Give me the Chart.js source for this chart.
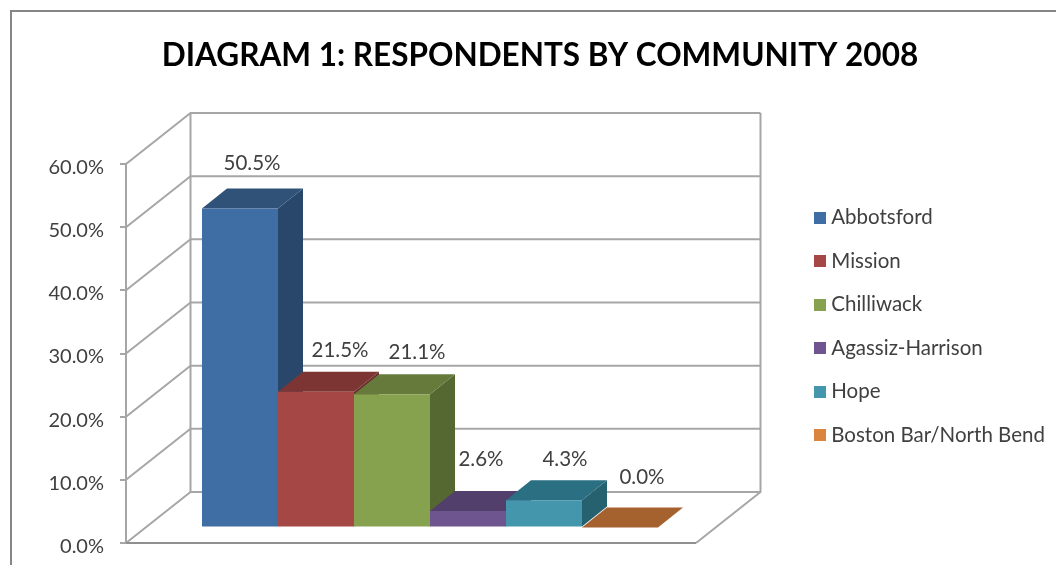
<!DOCTYPE html>
<html>
<head>
<meta charset="utf-8">
<style>
    html, body { margin: 0; padding: 0; background: #fff; overflow: hidden; }
    #wrap { position: relative; width: 1056px; height: 565px; }
    #frame { position: absolute; left: 10px; top: 10px; right: 0; bottom: 0; border-left: 2px solid #868686; border-top: 2px solid #868686; }
    canvas { position: absolute; left: 0; top: 0; }
</style>
<script src="https://cdn.jsdelivr.net/npm/chart.js@4/dist/chart.umd.js"></script>
</head>
<body>
<div id="wrap">
    <div id="frame"></div>
    <canvas id="chart" width="1056" height="565"></canvas>
</div>
<script>
const communities = ['Abbotsford', 'Mission', 'Chilliwack', 'Agassiz-Harrison', 'Hope', 'Boston Bar/North Bend'];
const respondentShares = [50.5, 21.5, 21.1, 2.6, 4.3, 0.0];

const frontColors = ['#3e6ea3', '#a54744', '#87a24f', '#6e5590', '#4396ac', '#db843d'];
const topColors = ['#305278', '#7c3533', '#657a3b', '#533f6b', '#2a6f82', '#a5612e'];
const sideColors = ['#28476a', '#6b2e2c', '#566832', '#473660', '#266170', '#8f5428'];

// wall depth and how far the bars stand off the front plane
const wallDepth = { x: 64.5, y: -51 };
const barInset = { x: 19, y: -15.5 };
const barDepth = { x: 25, y: -20 };

// hand placed like the original labels, relative to the bar front top centre
const labelNudge = [[12, -45.5], [24, -41.5], [25, -41.5], [13, -51.5], [21, -40.5], [22, -50.5]];

const lineColor = '#a6a6a6';
const textColor = '#404040';
const fontFamily = 'Lato, "Noto Sans", sans-serif';

function polygon(ctx, points, color) {
    ctx.fillStyle = color;
    ctx.beginPath();
    points.forEach((p, i) => i ? ctx.lineTo(p[0], p[1]) : ctx.moveTo(p[0], p[1]));
    ctx.closePath();
    ctx.fill();
}

function legendSwatch(color) {
    const c = document.createElement('canvas');
    c.width = 12;
    c.height = 12;
    const g = c.getContext('2d');
    g.fillStyle = color;
    g.fillRect(0, 0, 12, 12);
    return c;
}

const walls3d = {
    id: 'walls3d',
    afterLayout(chart) {
        // legend and title sit outside the plot box the scales use
        const legend = chart.legend;
        const pad = chart.options.plugins.legend.labels.padding;
        legend.left = 819 - pad;
        legend.right = 1056;
        legend.top = 207.5 - pad;
        legend.bottom = 565;
        chart.titleBlock.left = 24;
        chart.titleBlock.right = 1056;
    },
    beforeDatasetsDraw(chart) {
        const { ctx, chartArea, scales } = chart;
        const y = scales.y;
        const zero = y.getPixelForValue(0);
        const backLeft = chartArea.left + wallDepth.x;
        const backRight = chartArea.right + wallDepth.x;

        ctx.save();
        ctx.strokeStyle = lineColor;
        ctx.lineWidth = 2;
        ctx.lineJoin = 'round';
        y.ticks.forEach(tick => {
            const py = y.getPixelForValue(tick.value);
            ctx.beginPath();
            ctx.moveTo(chartArea.left, py);
            ctx.lineTo(backLeft, py + wallDepth.y);
            ctx.lineTo(backRight, py + wallDepth.y);
            ctx.stroke();
        });
        ctx.beginPath();
        ctx.moveTo(backLeft, y.getPixelForValue(60) + wallDepth.y);
        ctx.lineTo(backLeft, zero + wallDepth.y);
        ctx.moveTo(backRight, y.getPixelForValue(60) + wallDepth.y);
        ctx.lineTo(backRight, zero + wallDepth.y);
        ctx.lineTo(chartArea.right, zero);
        ctx.stroke();
        ctx.strokeStyle = '#8f8f8f';
        ctx.beginPath();
        ctx.moveTo(chartArea.left, zero);
        ctx.lineTo(chartArea.right, zero);
        ctx.stroke();
        ctx.restore();

        // depth faces go down first, left to right, the library then paints the fronts over them
        ctx.save();
        ctx.translate(barInset.x, barInset.y);
        communities.forEach((name, i) => {
            const bar = chart.getDatasetMeta(i).data[0];
            const left = bar.x - bar.width / 2;
            const right = bar.x + bar.width / 2;
            polygon(ctx, [
                [right, bar.y], [right + barDepth.x, bar.y + barDepth.y],
                [right + barDepth.x, bar.base + barDepth.y], [right, bar.base]
            ], sideColors[i]);
            polygon(ctx, [
                [left, bar.y], [left + barDepth.x, bar.y + barDepth.y],
                [right + barDepth.x, bar.y + barDepth.y], [right, bar.y]
            ], topColors[i]);
        });
        ctx.restore();

        ctx.save();
        ctx.translate(barInset.x, barInset.y);
    },
    afterDatasetsDraw(chart) {
        const ctx = chart.ctx;
        ctx.restore();

        ctx.save();
        ctx.font = '20.5px ' + fontFamily;
        ctx.fillStyle = textColor;
        ctx.textAlign = 'center';
        ctx.textBaseline = 'middle';
        respondentShares.forEach((share, i) => {
            const bar = chart.getDatasetMeta(i).data[0];
            ctx.fillText(share.toFixed(1) + '%',
                bar.x + barInset.x + labelNudge[i][0],
                bar.y + barInset.y + labelNudge[i][1]);
        });
        ctx.restore();
    }
};

new Chart(document.getElementById('chart'), {
    type: 'bar',
    data: {
        labels: ['2008'],
        datasets: communities.map((name, i) => ({
            label: name,
            data: [respondentShares[i]],
            backgroundColor: frontColors[i],
            categoryPercentage: 0.8,
            barPercentage: 1
        }))
    },
    options: {
        responsive: false,
        animation: false,
        layout: { padding: { left: 0, right: 360, top: 0, bottom: 22 } },
        plugins: {
            tooltip: { enabled: false },
            title: {
                display: true,
                text: 'DIAGRAM 1: RESPONDENTS BY COMMUNITY 2008',
                color: '#000',
                font: { family: fontFamily, size: 31.5, weight: 'bold', lineHeight: 1.2 },
                padding: { top: 37, bottom: 89.2 }
            },
            legend: {
                position: 'chartArea',
                align: 'start',
                labels: {
                    usePointStyle: true,
                    pointStyleWidth: 2,
                    color: textColor,
                    font: { family: fontFamily, size: 20.5 },
                    padding: 23,
                    generateLabels: chart => Chart.defaults.plugins.legend.labels.generateLabels(chart)
                        .map((item, i) => ({ ...item, pointStyle: legendSwatch(frontColors[i]) }))
                }
            }
        },
        scales: {
            x: { display: false },
            y: {
                min: 0,
                max: 60,
                afterFit: scale => {
                    scale.width = 126;
                    scale.paddingTop = 0;
                    scale.paddingBottom = 0;
                },
                border: { color: lineColor, width: 2 },
                grid: { drawOnChartArea: false, tickLength: 6, tickColor: lineColor, lineWidth: 2 },
                ticks: {
                    stepSize: 10,
                    padding: 16,
                    labelOffset: 3.5,
                    color: textColor,
                    font: { family: fontFamily, size: 20 },
                    callback: value => value.toFixed(1) + '%'
                }
            }
        }
    },
    plugins: [walls3d]
});
</script>
</body>
</html>
